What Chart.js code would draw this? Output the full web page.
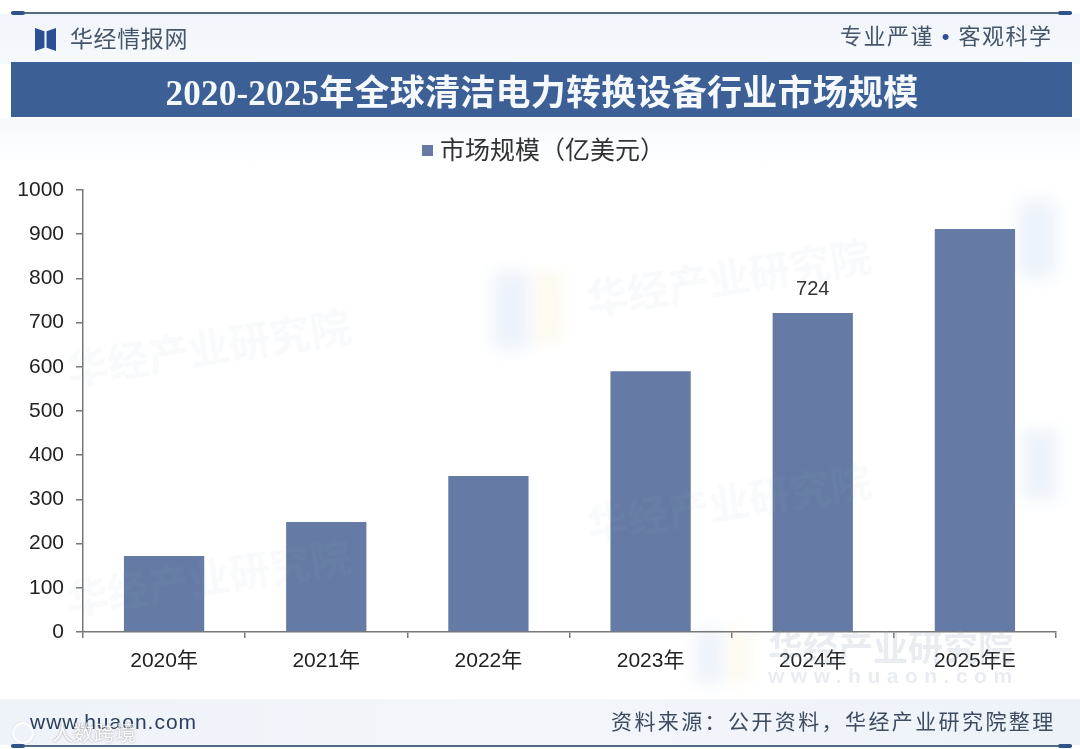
<!DOCTYPE html>
<html lang="zh">
<head>
<meta charset="utf-8">
<script src="https://cdn.jsdelivr.net/npm/chart.js@4"></script>
<style>
  html, body { margin: 0; padding: 0; background: #fff; }
  #page { position: relative; width: 1080px; height: 749px; overflow: hidden; background: #fff; font-family: "Liberation Sans", "Noto Sans CJK SC", sans-serif; }
  #page div { position: absolute; white-space: nowrap; }
  canvas { position: absolute; left: 0; top: 0; }
  .wm { color: #8fa0b8; font-weight: bold; opacity: .06; font-size: 41px; pointer-events: none; transform: rotate(-9deg); }
  .wm2 { color: #8fa0b8; font-weight: bold; opacity: .2; pointer-events: none; }
  .blob { filter: blur(8px); opacity: .09; }
</style>
</head>
<body>
<div id="page">
  <div style="left:0;top:14px;width:1080px;height:50px;background:linear-gradient(#f1f5fb,#f6f9fc)"></div>
  <div style="left:0;top:118px;width:1080px;height:50px;background:linear-gradient(#f6f9fd,#fff)"></div>
  <div style="left:0;top:699px;width:1080px;height:46px;background:linear-gradient(90deg,#eef3f9,#f3f6fb 50%,#edf2f9)"></div>

  <div class="blob" style="left:492px;top:272px;width:38px;height:78px;background:#3f7fd0"></div>
  <div class="blob" style="left:535px;top:272px;width:26px;height:70px;background:#f2c14e"></div>
  <div class="blob" style="left:1018px;top:200px;width:38px;height:78px;background:#3f7fd0"></div>
  <div class="blob" style="left:1022px;top:430px;width:36px;height:70px;background:#3f7fd0"></div>
  <div class="blob" style="left:695px;top:628px;width:28px;height:56px;background:#3f7fd0"></div>
  <div class="blob" style="left:728px;top:630px;width:22px;height:52px;background:#f2c14e"></div>

  <canvas id="grafico" width="1080" height="749"></canvas>

  <div style="left:11px;top:12px;width:1061px;height:2px;background:#546a80"></div>
  <div style="left:11px;top:11px;width:14px;height:4px;border-radius:2px;background:#2f5488"></div>
  <div style="left:1058px;top:11px;width:14px;height:4px;border-radius:2px;background:#2f5488"></div>

  <div style="left:35px;top:28px;width:21px;height:23px;background:#2a4f93;clip-path:polygon(0 0,45% 14%,45% 86%,0 100%)"></div>
  <div style="left:35px;top:28px;width:21px;height:23px;background:#2a4f93;clip-path:polygon(100% 0,55% 14%,55% 86%,100% 100%)"></div>
  <div style="left:70px;top:24px;font-size:23px;line-height:30px;letter-spacing:.6px;color:#46566a">华经情报网</div>
  <div style="left:840px;top:22px;font-size:22px;line-height:30px;letter-spacing:1.5px;color:#46566a">专业严谨 <span style="color:#2a4f93">•</span> 客观科学</div>

  <div style="left:11px;top:62px;width:1061px;height:55px;background:#3c5f95"></div>
  <div style="left:100px;top:67px;width:884px;text-align:center;font-family:'Liberation Serif','Noto Sans CJK SC',serif;font-weight:bold;font-size:35px;line-height:54px;letter-spacing:.25px;color:#f5f8fc">2020-2025年全球清洁电力转换设备行业市场规模</div>

  <div id="legenda" style="left:422px;top:135px;height:30px;line-height:30px;font-size:25px;color:#333;padding-left:18px">
    <div style="left:0;top:10px;width:11px;height:11px;background:#657ba5"></div>
    <span id="legendaTexto"></span>
  </div>

  <div class="wm" style="left:585px;top:245px">华经产业研究院</div>
  <div class="wm" style="left:65px;top:315px">华经产业研究院</div>
  <div class="wm" style="left:585px;top:470px">华经产业研究院</div>
  <div class="wm" style="left:65px;top:545px">华经产业研究院</div>
  <div class="wm2" style="left:768px;top:620px;font-size:35px">华经产业研究院</div>
  <div class="wm2" style="left:768px;top:664px;font-size:21px;letter-spacing:6.5px">www.huaon.com</div>

  <div style="left:30px;top:707px;font-size:21px;line-height:30px;letter-spacing:1px;color:#2c405e">www.huaon.com</div>
  <div style="left:12px;top:722px;width:18px;height:18px;border:2px solid #fff;border-radius:50%;opacity:.8;box-shadow:0 0 1px #999"></div>
  <div style="left:52px;top:720px;font-size:21px;line-height:26px;color:#fff;opacity:.75;text-shadow:0 0 2px #777">人数跨境</div>
  <div style="left:611px;top:707px;font-size:21px;line-height:30px;letter-spacing:2.4px;color:#3d4c60">资料来源：公开资料，华经产业研究院整理</div>

  <div style="left:11px;top:745px;width:1061px;height:2px;background:#546a80"></div>
  <div style="left:11px;top:744px;width:14px;height:4px;border-radius:2px;background:#2f5488"></div>
  <div style="left:1058px;top:744px;width:14px;height:4px;border-radius:2px;background:#2f5488"></div>
</div>

<script>
const anos = ['2020年', '2021年', '2022年', '2023年', '2024年', '2025年E'];
const mercado = [172, 249, 353, 590, 722, 912];
const rotulos = [null, null, null, null, '724', null];
const nomeSerie = '市场规模（亿美元）';
const fonte = '"Liberation Sans", "Noto Sans CJK SC", sans-serif';

document.getElementById('legendaTexto').textContent = nomeSerie;

// so the 2024 bar has its number on top, the others have none
const rotuloBarras = {
  id: 'rotuloBarras',
  afterDatasetsDraw(chart) {
    const { ctx } = chart;
    chart.getDatasetMeta(0).data.forEach((bar, i) => {
      if (!rotulos[i]) return;
      ctx.save();
      ctx.font = '20px ' + fonte;
      ctx.fillStyle = '#333';
      ctx.textAlign = 'center';
      ctx.textBaseline = 'middle';
      ctx.fillText(rotulos[i], bar.x, bar.y - 23);
      ctx.restore();
    });
  }
};

const ctx = document.getElementById('grafico').getContext('2d');
new Chart(ctx, {
  type: 'bar',
  data: {
    labels: anos,
    datasets: [{
      label: nomeSerie,
      data: mercado,
      backgroundColor: '#657ba5',
      categoryPercentage: 1,
      barPercentage: 0.495
    }]
  },
  options: {
    responsive: false,
    animation: false,
    layout: { padding: { top: 190, right: 24, bottom: 0, left: 0 } },
    plugins: {
      tooltip: { enabled: false },
      legend: { display: false }
    },
    scales: {
      x: {
        afterFit: s => { s.height = 117; },
        border: { color: '#777', width: 1.5 },
        grid: { drawOnChartArea: false, color: '#777', tickLength: 6, lineWidth: 1.5 },
        ticks: { color: '#222', padding: 11, maxRotation: 0, font: { family: fonte, size: 21 } }
      },
      y: {
        min: 0,
        max: 1000,
        afterFit: s => { s.width = 83; },
        border: { color: '#777', width: 1.5 },
        grid: { drawOnChartArea: false, color: '#777', tickLength: 7, lineWidth: 1.5 },
        ticks: { stepSize: 100, color: '#222', padding: 12, callback: v => String(v), font: { family: fonte, size: 21 } }
      }
    }
  },
  plugins: [rotuloBarras]
});
</script>
</body>
</html>
